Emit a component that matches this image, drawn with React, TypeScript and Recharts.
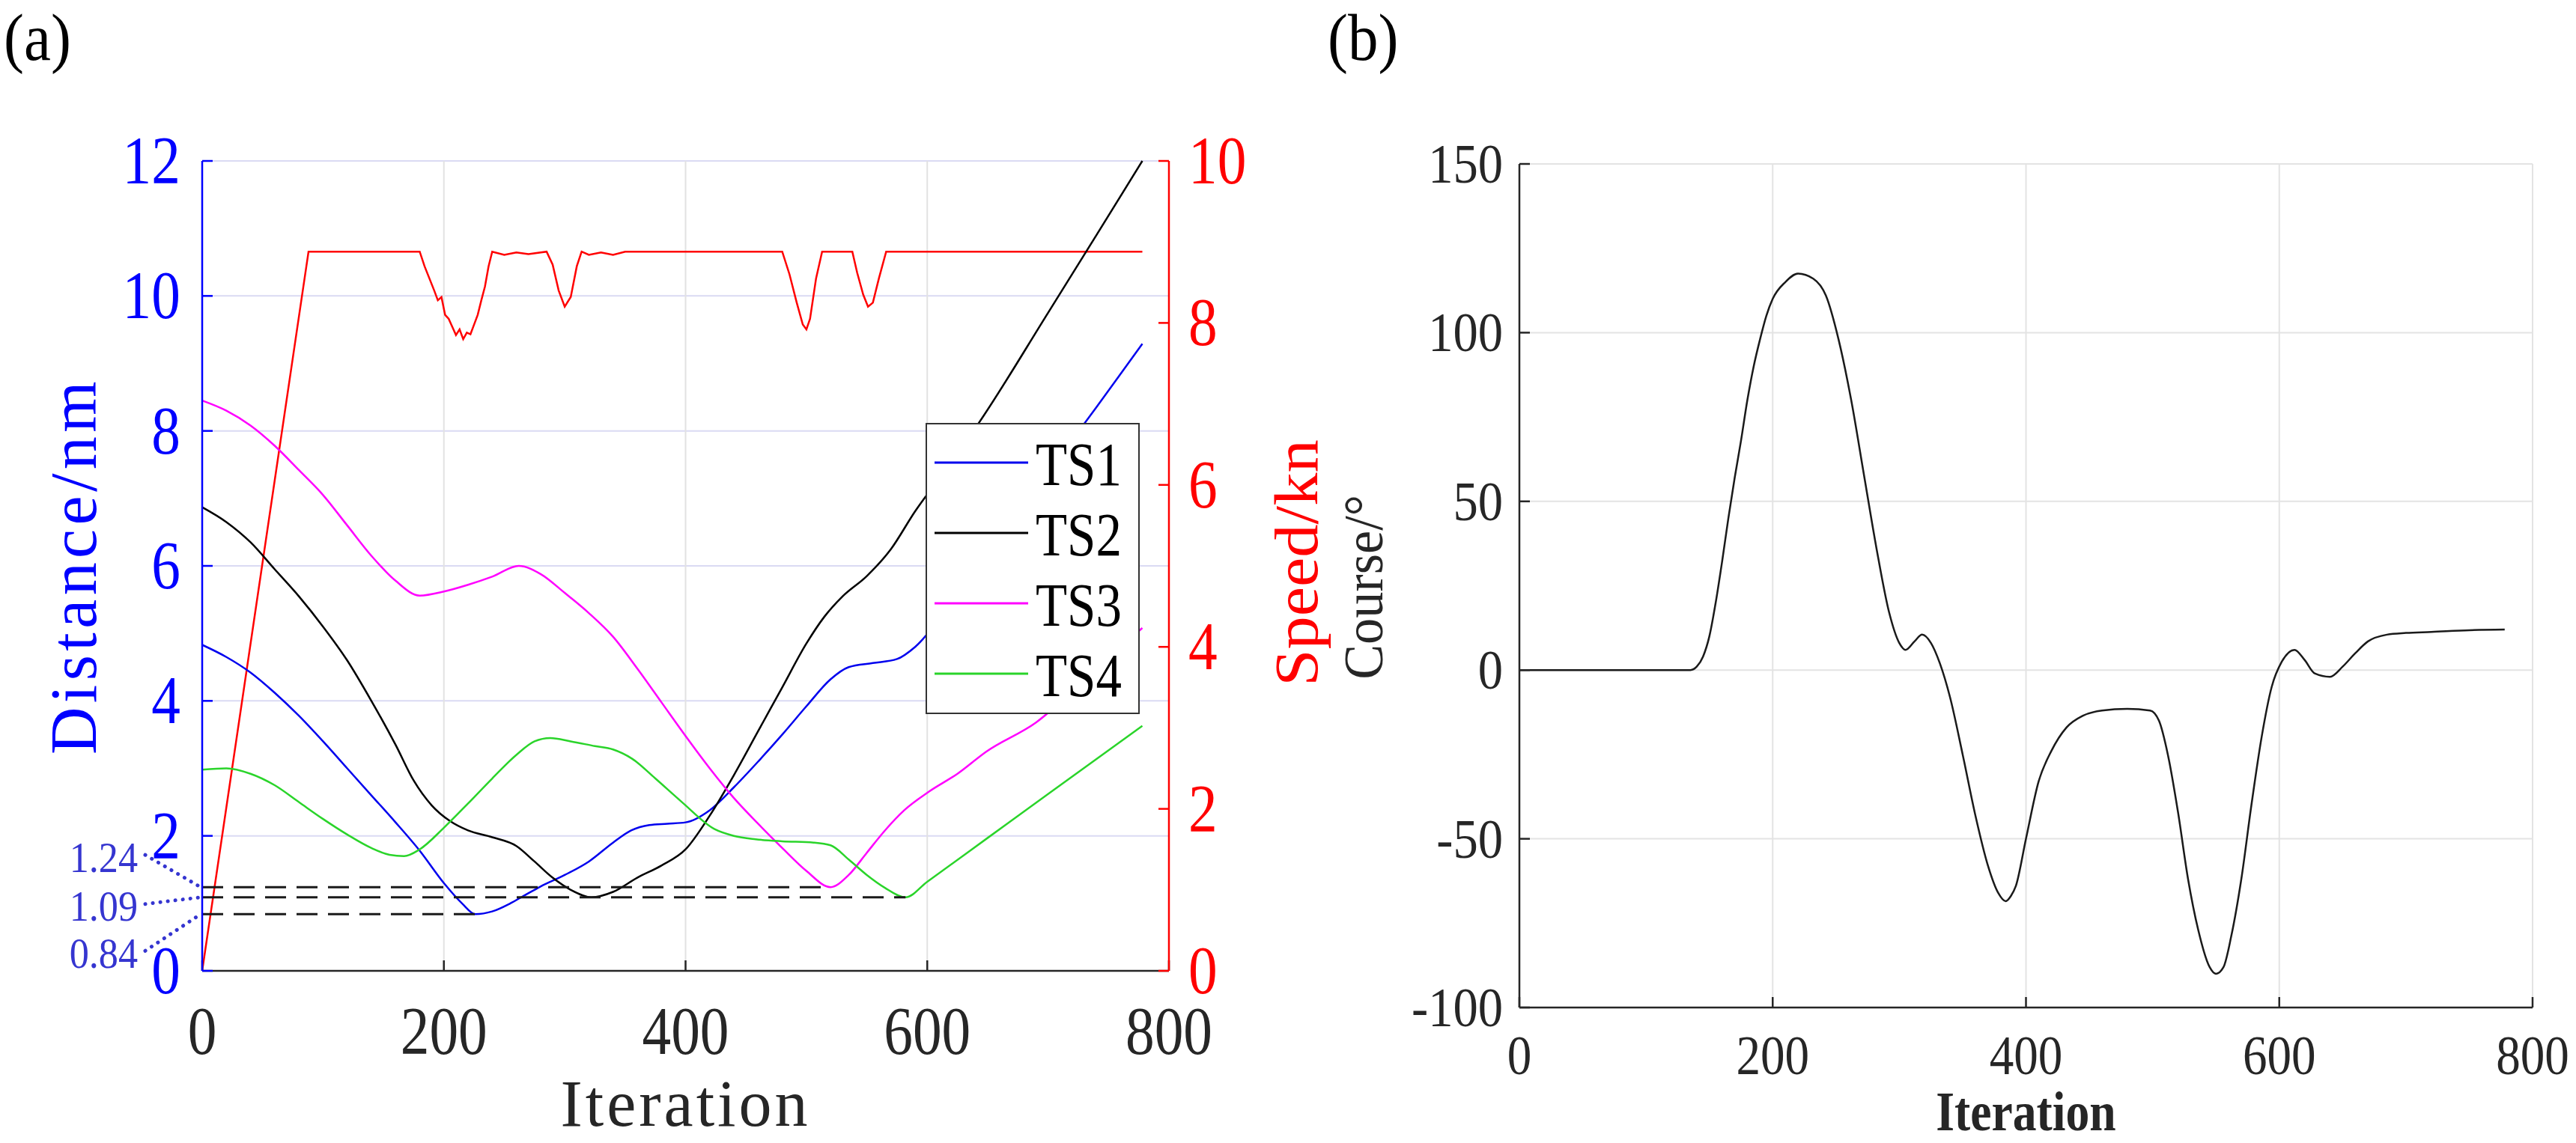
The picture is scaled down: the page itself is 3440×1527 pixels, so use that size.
import React from "react";
import {
  LineChart,
  Line,
  XAxis,
  YAxis,
  CartesianGrid,
  ReferenceLine,
  Legend,
} from "recharts";

// ---- data ----
const iterTicks = [0, 200, 400, 600, 800];
const distanceTicks = [0, 2, 4, 6, 8, 10, 12];
const speedTicks = [0, 2, 4, 6, 8, 10];
const courseTicks = [-100, -50, 0, 50, 100, 150];

const ts1Iter = [0, 20, 40, 60, 80, 100, 120, 140, 160, 180, 200, 215, 226, 240, 255, 266, 280, 300, 320, 340, 355, 370, 385, 400, 420, 440, 460, 480, 500, 520, 535, 555, 575, 590, 620, 680, 740, 778];
const ts1Dist = [4.83, 4.65, 4.42, 4.12, 3.78, 3.4, 3.0, 2.6, 2.2, 1.78, 1.3, 1.0, 0.84, 0.88, 1.0, 1.11, 1.25, 1.42, 1.62, 1.9, 2.08, 2.16, 2.18, 2.2, 2.38, 2.72, 3.1, 3.5, 3.92, 4.32, 4.5, 4.56, 4.62, 4.8, 5.45, 6.9, 8.35, 9.29];

const ts2Iter = [0, 20, 40, 60, 80, 100, 120, 140, 160, 175, 190, 205, 220, 240, 260, 275, 290, 305, 322, 340, 360, 380, 400, 420, 440, 460, 480, 500, 515, 530, 550, 570, 590, 610, 642, 700, 740, 778];
const ts2Dist = [6.87, 6.65, 6.35, 5.95, 5.55, 5.1, 4.6, 4.0, 3.35, 2.82, 2.45, 2.22, 2.08, 1.98, 1.85, 1.62, 1.38, 1.2, 1.09, 1.17, 1.38, 1.56, 1.8, 2.3, 2.9, 3.55, 4.2, 4.85, 5.25, 5.55, 5.85, 6.25, 6.81, 7.3, 8.1, 9.75, 10.9, 12.0];

const ts3Iter = [0, 20, 40, 60, 80, 100, 120, 140, 160, 180, 200, 220, 240, 262, 280, 300, 320, 340, 360, 380, 400, 420, 440, 460, 480, 500, 520, 535, 550, 565, 581, 601, 625, 649, 690, 740, 778];
const ts3Dist = [8.45, 8.3, 8.08, 7.78, 7.42, 7.05, 6.6, 6.15, 5.78, 5.56, 5.62, 5.72, 5.84, 6.0, 5.88, 5.6, 5.3, 4.95, 4.48, 3.98, 3.48, 3.0, 2.56, 2.18, 1.82, 1.48, 1.24, 1.42, 1.75, 2.08, 2.38, 2.65, 2.92, 3.25, 3.68, 4.48, 5.08];

const ts4Iter = [0, 20, 40, 60, 80, 100, 120, 140, 155, 167, 180, 200, 220, 240, 260, 275, 288, 305, 325, 340, 356, 375, 397, 424, 440, 458, 480, 506, 520, 535, 550, 565, 582, 600, 650, 700, 778];
const ts4Dist = [2.98, 3.0, 2.92, 2.75, 2.5, 2.25, 2.02, 1.82, 1.72, 1.7, 1.8, 2.12, 2.48, 2.85, 3.2, 3.4, 3.45, 3.4, 3.33, 3.28, 3.14, 2.85, 2.5, 2.1, 2.0, 1.95, 1.92, 1.9, 1.86, 1.65, 1.42, 1.23, 1.09, 1.32, 1.97, 2.62, 3.63];

const speedIter = [0, 88, 180, 184, 188, 192, 195, 198, 201, 204, 207, 210, 213, 216, 219, 222, 225, 228, 231, 234, 237, 240, 250, 260, 270, 285, 290, 295, 300, 305, 310, 314, 320, 330, 340, 350, 480, 486, 492, 497, 500, 503, 508, 513, 538, 542, 547, 551, 555, 560, 566, 778];
const speedKn = [0, 8.88, 8.88, 8.7, 8.55, 8.4, 8.28, 8.32, 8.1, 8.05, 7.95, 7.85, 7.92, 7.8, 7.88, 7.86, 7.98, 8.1, 8.28, 8.45, 8.7, 8.88, 8.84, 8.87, 8.85, 8.88, 8.72, 8.4, 8.2, 8.32, 8.7, 8.88, 8.84, 8.87, 8.84, 8.88, 8.88, 8.6, 8.25, 7.98, 7.92, 8.05, 8.55, 8.88, 8.88, 8.62, 8.35, 8.2, 8.25, 8.55, 8.88, 8.88];

const closestIter = [520, 582, 226];
const closestDist = [1.24, 1.09, 0.84];

const courseIter = [0, 135, 140, 145, 150, 155, 160, 165, 170, 175, 180, 185, 190, 195, 200, 210, 220, 232, 242, 252, 262, 272, 282, 292, 300, 305, 312, 318, 325, 332, 340, 350, 360, 370, 378, 384, 388, 392, 400, 410, 420, 432, 445, 460, 480, 498, 505, 512, 520, 528, 536, 545, 550, 556, 562, 570, 578, 586, 594, 602, 612, 620, 628, 640, 650, 660, 670, 685, 700, 720, 750, 778];
const courseDeg = [0, 0, 1, 4, 10, 20, 32, 45, 57, 68, 80, 90, 98, 105, 110, 115, 117.5, 116, 111, 98, 80, 58, 36, 17, 8, 6, 8.5, 10.5, 8, 2, -8, -25, -43, -58, -66, -68.5, -67, -64, -50, -33, -24, -17, -13.5, -12, -11.5, -12, -15, -25, -42, -62, -77, -88, -90, -88, -79, -62, -40, -20, -5, 2.5, 6, 3, -1, -2, 1, 5, 8.5, 10.5, 11, 11.3, 11.8, 12];

const seriesNames = ["TS1", "TS2", "TS3", "TS4"];

// ---- styling ----
const SERIF = "'Liberation Serif', 'Times New Roman', serif";
const INK = "#262626";
const BLUE = "#0000ff";
const RED = "#ff0000";
const NOTE = "#3535d0";
const seriesColors = ["#0000ee", "#000000", "#ff00ff", "#2ad42a"];
const calloutDy = [-43, 9, 49];
const calloutLabelDy = [-20, 31, 72];

const toRows = (xs: number[], ys: number[]) => xs.map((it, i) => ({ it, v: ys[i] }));
const distRows = [
  toRows(ts1Iter, ts1Dist),
  toRows(ts2Iter, ts2Dist),
  toRows(ts3Iter, ts3Dist),
  toRows(ts4Iter, ts4Dist),
];
const speedRows = toRows(speedIter, speedKn);
const courseRows = toRows(courseIter, courseDeg);

type TxtProps = {
  x: number;
  y: number;
  size: number;
  children: React.ReactNode;
  fill?: string;
  weight?: string | number;
  anchor?: "start" | "middle" | "end";
  sx?: number;
  rotate?: number;
  spacing?: number;
};

const Txt = ({ x, y, size, children, fill = INK, weight = "normal", anchor = "middle", sx = 1, rotate = 0, spacing = 0 }: TxtProps) => (
  <text
    transform={`translate(${x},${y}) rotate(${rotate}) scale(${sx},1)`}
    fontSize={size}
    fill={fill}
    fontFamily={SERIF}
    fontWeight={weight}
    textAnchor={anchor}
    letterSpacing={spacing}
  >
    {children}
  </text>
);

const tickText = (size: number, fill: string, anchor: "start" | "middle" | "end", dy: number, sx: number) =>
  (p: any) => (
    <Txt x={p.x} y={p.y + dy} size={size} fill={fill} anchor={anchor} sx={sx}>
      {p.payload.value}
    </Txt>
  );

const closestShape = (idx: number) => (p: any) => (
  <g>
    <line x1={p.x1} y1={p.y1} x2={p.x2} y2={p.y2} stroke="#1a1a1a" strokeWidth={3} strokeDasharray="28 14" />
    <line
      x1={p.x1 - 76}
      y1={p.y1 + calloutDy[idx]}
      x2={p.x1 - 2}
      y2={p.y1}
      stroke={NOTE}
      strokeWidth={5}
      strokeDasharray="0.1 10"
      strokeLinecap="round"
    />
    <Txt x={p.x1 - 86} y={p.y1 + calloutLabelDy[idx]} size={58} fill={NOTE} anchor="end" sx={0.9}>
      {closestDist[idx].toFixed(2)}
    </Txt>
  </g>
);

const LegendBox = ({ payload }: any) => {
  const items = (payload || []).filter((e: any) => seriesNames.includes(e.value));
  return (
    <div style={{ width: 286, height: 389, border: "2.5px solid #333", background: "#fff", boxSizing: "border-box" }}>
      <svg width={281} height={384}>
        {items.map((e: any, i: number) => (
          <g key={e.value}>
            <line x1={10} x2={135} y1={51 + i * 94} y2={51 + i * 94} stroke={e.color} strokeWidth={3} />
            <Txt x={145} y={81 + i * 94} size={83} fill="#000" anchor="start" sx={0.83}>
              {e.value}
            </Txt>
          </g>
        ))}
      </svg>
    </div>
  );
};

const DistanceChart = () => (
  <LineChart width={1780} height={1527} margin={{ top: 215, right: 0, bottom: 0, left: 0 }}>
    <CartesianGrid yAxisId="dist" vertical={false} stroke="#dadaf3" strokeWidth={2} />
    <CartesianGrid yAxisId="dist" horizontal={false} stroke="#e2e2e2" strokeWidth={2} />
    <XAxis
      dataKey="it"
      type="number"
      domain={[0, 800]}
      ticks={iterTicks}
      height={230}
      axisLine={{ stroke: INK, strokeWidth: 2.5 }}
      tickLine={{ stroke: INK, strokeWidth: 2.5 }}
      tickSize={-14}
      tickMargin={64}
      tick={tickText(90, INK, "middle", 61, 0.86)}
      label={(p: any) => (
        <Txt x={p.viewBox.x + p.viewBox.width / 2} y={p.viewBox.y + 207} size={88} spacing={4}>
          Iteration
        </Txt>
      )}
    />
    <XAxis
      xAxisId="top"
      orientation="top"
      type="number"
      domain={[0, 800]}
      ticks={iterTicks}
      height={0}
      axisLine={{ stroke: INK, strokeWidth: 2.5 }}
      tickLine={{ stroke: INK, strokeWidth: 2.5 }}
      tickSize={-14}
      tick={false}
    />
    <YAxis
      yAxisId="dist"
      type="number"
      domain={[0, 12]}
      ticks={distanceTicks}
      width={270}
      axisLine={{ stroke: BLUE, strokeWidth: 2.5 }}
      tickLine={{ stroke: BLUE, strokeWidth: 2.5 }}
      tickSize={-14}
      tickMargin={43}
      tick={tickText(90, BLUE, "end", 30, 0.86)}
      label={(p: any) => (
        <Txt x={p.viewBox.x + 128} y={p.viewBox.y + p.viewBox.height / 2} size={88} fill={BLUE} rotate={-90} spacing={5.4}>
          Distance/nm
        </Txt>
      )}
    />
    <YAxis
      yAxisId="speed"
      orientation="right"
      type="number"
      domain={[0, 10]}
      ticks={speedTicks}
      width={219}
      axisLine={{ stroke: RED, strokeWidth: 2.5 }}
      tickLine={{ stroke: RED, strokeWidth: 2.5 }}
      tickSize={-14}
      tickMargin={40}
      tick={tickText(90, RED, "start", 30, 0.86)}
      label={(p: any) => (
        <Txt x={p.viewBox.x + 198} y={p.viewBox.y + p.viewBox.height / 2 - 4} size={82} fill={RED} rotate={-90} sx={1.08}>
          Speed/kn
        </Txt>
      )}
    />
    <Line
      yAxisId="speed"
      data={speedRows}
      dataKey="v"
      name="Speed"
      type="linear"
      stroke={RED}
      strokeWidth={2.5}
      dot={false}
      activeDot={false}
      legendType="none"
      isAnimationActive={false}
    />
    {seriesNames.map((name, i) => (
      <Line
        key={name}
        yAxisId="dist"
        data={distRows[i]}
        dataKey="v"
        name={name}
        type="monotone"
        stroke={seriesColors[i]}
        strokeWidth={2.5}
        dot={false}
        activeDot={false}
        isAnimationActive={false}
      />
    ))}
    {closestDist.map((d, i) => (
      <ReferenceLine
        key={d}
        yAxisId="dist"
        segment={[
          { x: 0, y: d },
          { x: closestIter[i], y: d },
        ]}
        shape={closestShape(i)}
      />
    ))}
    <Legend
      layout="vertical"
      align="center"
      verticalAlign="middle"
      wrapperStyle={{ left: 1236, top: 565, width: 286, height: 389 }}
      content={(props: any) => <LegendBox payload={props.payload} />}
    />
  </LineChart>
);

const CourseChart = () => (
  <LineChart width={1680} height={1527} margin={{ top: 219, right: 58, bottom: 0, left: 0 }}>
    <CartesianGrid stroke="#e3e3e3" strokeWidth={2} />
    <XAxis
      dataKey="it"
      type="number"
      domain={[0, 800]}
      ticks={iterTicks}
      height={181}
      axisLine={{ stroke: INK, strokeWidth: 2.5 }}
      tickLine={{ stroke: INK, strokeWidth: 2.5 }}
      tickSize={-14}
      tickMargin={53}
      tick={tickText(74, INK, "middle", 50, 0.88)}
      label={(p: any) => (
        <Txt x={p.viewBox.x + p.viewBox.width / 2} y={p.viewBox.y + 164} size={74} weight="bold" sx={0.86}>
          Iteration
        </Txt>
      )}
    />
    <XAxis
      xAxisId="top"
      orientation="top"
      type="number"
      domain={[0, 800]}
      ticks={iterTicks}
      height={0}
      axisLine={{ stroke: INK, strokeWidth: 2.5 }}
      tickLine={{ stroke: INK, strokeWidth: 2.5 }}
      tickSize={-14}
      tick={false}
    />
    <YAxis
      type="number"
      domain={[-100, 150]}
      ticks={courseTicks}
      width={269}
      axisLine={{ stroke: INK, strokeWidth: 2.5 }}
      tickLine={{ stroke: INK, strokeWidth: 2.5 }}
      tickSize={-14}
      tickMargin={36}
      tick={tickText(74, INK, "end", 25, 0.9)}
      label={(p: any) => (
        <Txt x={p.viewBox.x + 86} y={p.viewBox.y + p.viewBox.height / 2 + 2} size={74} rotate={-90} sx={0.95}>
          Course/°
        </Txt>
      )}
    />
    <YAxis
      yAxisId="mirror"
      orientation="right"
      type="number"
      domain={[-100, 150]}
      ticks={courseTicks}
      width={0}
      axisLine={{ stroke: INK, strokeWidth: 2.5 }}
      tickLine={{ stroke: INK, strokeWidth: 2.5 }}
      tickSize={-14}
      tick={false}
    />
    <Line
      data={courseRows}
      dataKey="v"
      name="Course"
      type="monotone"
      stroke="#1a1a1a"
      strokeWidth={2.5}
      dot={false}
      activeDot={false}
      isAnimationActive={false}
    />
  </LineChart>
);

export default function App() {
  return (
    <div style={{ position: "absolute", left: 0, top: 0, width: 3440, height: 1527, background: "#fff", overflow: "hidden" }}>
      <div style={{ position: "absolute", left: 0, top: 0 }}>
        <DistanceChart />
      </div>
      <div style={{ position: "absolute", left: 1760, top: 0 }}>
        <CourseChart />
      </div>
      <svg style={{ position: "absolute", left: 0, top: 0, pointerEvents: "none" }} width={3440} height={120}>
        <Txt x={5} y={80} size={88} anchor="start" fill="#000" sx={0.92}>
          (a)
        </Txt>
        <Txt x={1773} y={80} size={88} anchor="start" fill="#000" sx={0.92}>
          (b)
        </Txt>
      </svg>
    </div>
  );
}
